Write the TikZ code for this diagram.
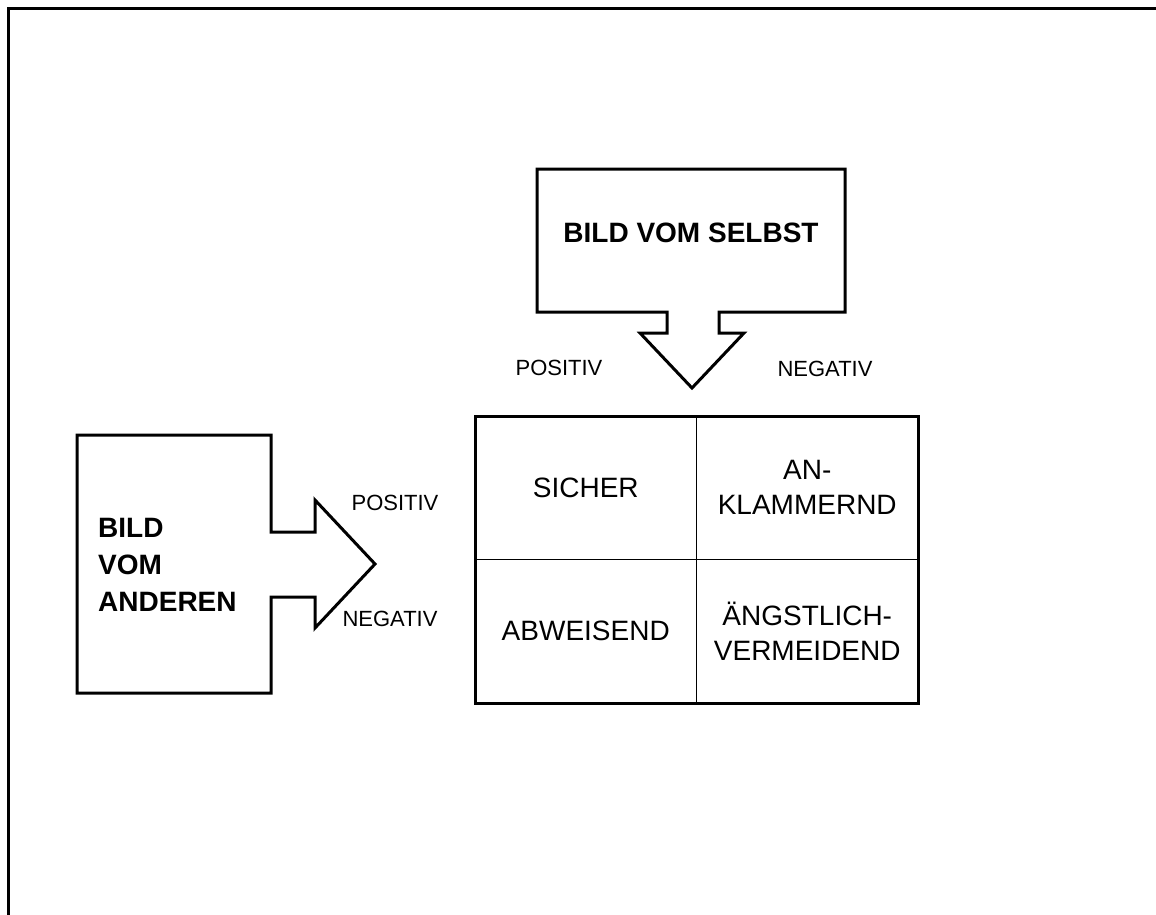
\documentclass[tikz,border=0pt]{standalone}
\usepackage{fontspec}
\setmainfont{Liberation Sans}
\usetikzlibrary{positioning}

\begin{document}
\begin{tikzpicture}[x=1pt,y=-1pt,
    umriss/.style={draw, line width=3pt, line join=miter},
    feld/.style={draw, line width=1pt, outer sep=0pt, inner sep=0pt,
      minimum width=221.5pt, minimum height=143.5pt, align=center,
      font=\fontsize{28}{35}\selectfont},
    klein/.style={inner sep=0pt, font=\fontsize{22}{26}\selectfont},
    titel/.style={inner sep=0pt, font=\fontsize{28}{37}\selectfont\bfseries}]
\useasboundingbox (0,0) rectangle (1156,915);
%frame: only the top and the left edge are there
\draw[line width=3pt] (8.5,915) -- (8.5,8.5) -- (1156,8.5);

%the box on top, with its arrow pointing down
\draw[umriss] (537,169) -- (845,169) -- (845,312) -- (719,312)
   -- (719,333) -- (744,333) -- (692,388) -- (640,333) -- (667,333)
   -- (667,312) -- (537,312) -- cycle;
\node[titel] (selbst) at (691,233) {BILD VOM SELBST};
\node[klein] (posoben) at (559,368) {POSITIV};
\node[klein] (negoben) at (825,369) {NEGATIV};

%the box on the left, with its arrow pointing right
\draw[umriss] (77,435) -- (271,435) -- (271,532) -- (315,532)
   -- (315,500) -- (375,564) -- (315,628) -- (315,597) -- (271,597)
   -- (271,693) -- (77,693) -- cycle;
\node[titel, align=left, anchor=west] (anderen) at (98,565)
   {BILD\\VOM\\ANDEREN};
\node[klein] (poslinks) at (395,503) {POSITIV};
\node[klein] (neglinks) at (390,619) {NEGATIV};

%the four fields
\node[feld, anchor=north west] (sicher) at (475,416) {SICHER};
\node[feld, right=0pt of sicher] (anklammernd) {AN-\\KLAMMERND};
\node[feld, below=0pt of sicher] (abweisend) {ABWEISEND};
\node[feld, below=0pt of anklammernd] (vermeidend)
   {\raisebox{0pt}{ÄNGSTLICH-}\\VERMEIDEND};
\draw[line width=3pt] (sicher.north west) rectangle (vermeidend.south east);
\end{tikzpicture}
\end{document}
